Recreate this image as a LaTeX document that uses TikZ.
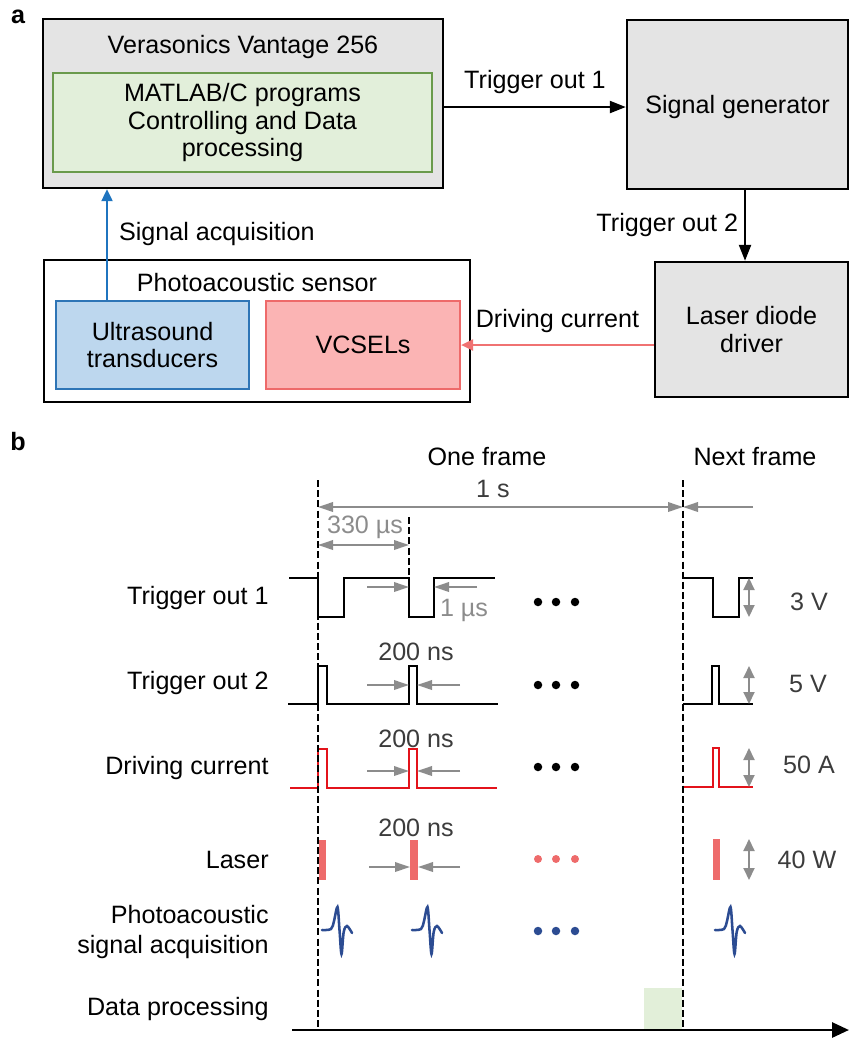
\documentclass[tikz,border=0pt]{standalone}
\usepackage{fontspec}
\setmainfont{Liberation Sans}
\usetikzlibrary{arrows.meta, positioning, calc}

\definecolor{boxgray}{HTML}{E4E4E4}
\definecolor{progfill}{HTML}{E2EFDA}
\definecolor{progdraw}{HTML}{6A9A4C}
\definecolor{usfill}{HTML}{BDD7EE}
\definecolor{usdraw}{HTML}{2E75B6}
\definecolor{vcfill}{HTML}{FBB4B4}
\definecolor{vcdraw}{HTML}{EE6A6A}
\definecolor{acqblue}{HTML}{1F74BF}
\definecolor{drivered}{HTML}{F07272}
\definecolor{pulsered}{HTML}{E3131B}
\definecolor{laserred}{HTML}{EE6B6B}
\definecolor{panavy}{HTML}{2C4C92}
\definecolor{dimgray}{HTML}{8C8C8C}
\definecolor{valgray}{HTML}{3C3C3C}
\definecolor{procgreen}{HTML}{E2EFD9}

\newcommand{\figfont}{\fontsize{14.3}{15.4}\selectfont}

\tikzstyle{device}     = [rectangle, draw=black, line width=1.4pt, fill=boxgray, align=center]
\tikzstyle{program}    = [rectangle, draw=progdraw, line width=1.1pt, fill=progfill, align=center]
\tikzstyle{sensor}     = [rectangle, draw=black, line width=1.4pt, fill=white]
\tikzstyle{transducer} = [rectangle, draw=usdraw, line width=1.2pt, fill=usfill, align=center]
\tikzstyle{emitter}    = [rectangle, draw=vcdraw, line width=1.2pt, fill=vcfill, align=center]
\tikzstyle{arrow}      = [line width=1.3pt, -{Triangle[length=3.2mm, width=2.4mm]}]
\tikzstyle{acqarrow}   = [draw=acqblue, line width=1.3pt, -{Triangle[length=2.4mm, width=2.2mm]}]
\tikzstyle{drivearrow} = [draw=drivered, line width=1.2pt, -{Triangle[length=2.4mm, width=2.2mm]}]
\tikzstyle{rowlabel}   = [anchor=east, inner sep=0pt, align=right]
\tikzstyle{valtext}    = [text=valgray]
\tikzstyle{dimtext}    = [text=dimgray]
\tikzstyle{dim}        = [draw=dimgray, line width=1.1pt, >={Triangle[length=3mm, width=1.9mm]}]
\tikzstyle{amp}        = [draw=dimgray, line width=1.1pt, >={Triangle[length=2.4mm, width=2.2mm]}]
\tikzstyle{frameline}  = [line width=1.35pt, dash pattern=on 4pt off 1.8pt]
\tikzstyle{trig}       = [line width=1.35pt]
\tikzstyle{drive}      = [draw=pulsered, line width=1.5pt]
\tikzstyle{pawave}     = [draw=panavy, line width=1.45pt, line cap=round]
\tikzstyle{timeaxis}   = [line width=1.6pt, -{Triangle[length=3.4mm, width=3mm]}]

\begin{document}
\begin{tikzpicture}[x=0.02cm, y=-0.02cm, every node/.style={font=\figfont}]
  \useasboundingbox (0,0) rectangle (850,1038);

  % --- panel a: hardware blocks ---
  \node (lbl_a) [font=\figfont\bfseries] at (18,17) {a};

  \node (vera) [device, minimum width=8cm, minimum height=3.38cm] at (243,103.5) {};
  \node (vera_lbl) at (243,47.5) {Verasonics Vantage 256};
  \node (prog) [program, minimum width=7.58cm, minimum height=1.98cm] at (242.5,122.5)
               {MATLAB/C programs\\Controlling and Data\\processing};

  \node (sg) [device, minimum width=4.42cm, minimum height=3.38cm, text depth=0pt] at (737.5,104.5) {Signal generator};
  \node (ld) [device, minimum width=3.86cm, minimum height=2.7cm] at (751.5,329.5) {Laser diode\\driver};

  \node (pas) [sensor, minimum width=8.52cm, minimum height=2.84cm] at (257,331) {};
  \node (pas_lbl) at (257,283) {Photoacoustic sensor};
  \node (ust) [transducer, minimum width=3.86cm, minimum height=1.76cm] at (152.5,345)
              {Ultrasound\\transducers};
  \node (vcsel) [emitter, minimum width=3.88cm, minimum height=1.76cm, right=0.3cm of ust] {VCSELs};

  % links
  \draw[arrow] ([yshift=-0.07cm]vera.east) -- node[above=1.2mm]{Trigger out 1} ([yshift=-0.07cm]vera.east -| sg.west);
  \draw[arrow] ([xshift=0.15cm]sg.south) -- node[left]{Trigger out 2} ([xshift=0.15cm]sg.south |- ld.north);
  \draw[drivearrow] (ld.west |- vcsel.east) -- node[above=1mm]{Driving current} (vcsel.east);
  \draw[acqarrow] ([xshift=-0.91cm]ust.north) -- node[right=1mm, pos=0.6]{Signal acquisition}
                  ([xshift=-0.91cm]ust.north |- vera.south);

  % --- panel b: timing ---
  \node (lbl_b) [font=\figfont\bfseries] at (18,442) {b};

  \node (r_t1)   [rowlabel] at (269,598)  {Trigger out 1};
  \node (r_t2)   [rowlabel] at (269,683)  {Trigger out 2};
  \node (r_dc)   [rowlabel] at (269,768)  {Driving current};
  \node (r_las)  [rowlabel] at (269,860)  {Laser};
  \node (r_pa)   [rowlabel] at (269,932)  {Photoacoustic\\[1.7pt]signal acquisition};
  \node (r_proc) [rowlabel] at (269,1009) {Data processing};

  \node (one)  at (487,457) {One frame};
  \node (next) at (755,457) {Next frame};
  \node (dur) [valtext] at (493,489) {1 s};
  \node (per) [dimtext] at (365,527) {330 µs};

  % frame and period markers
  \draw[dim, <->] (318,507) -- (683,507);
  \draw[dim, ->]  (753,507) -- (683,507);
  \draw[dim, <->] (318,545) -- (409,545);

  % trigger out 1
  \draw[trig] (289,578) -- (318,578) -- (318,617) -- (344,617) -- (344,578) -- (409,578)
              -- (409,617) -- (434,617) -- (434,578) -- (495,578);
  \draw[trig] (683,578) -- (713,578) -- (713,617) -- (739,617) -- (739,578) -- (753,578);
  \draw[dim, ->] (367,587) -- (409,587);
  \draw[dim, ->] (477,587) -- (434,587);
  \node (w1) [dimtext] at (464,610) {1 µs};
  \draw[amp, <->] (749,578) -- (749,617);
  \node (a1) [valtext] at (809,602) {3 V};

  % trigger out 2
  \draw[trig] (288,704) -- (318,704) -- (318,666) -- (327,666) -- (327,704) -- (409,704)
              -- (409,666) -- (417,666) -- (417,704) -- (498,704);
  \draw[trig] (683,704) -- (712,704) -- (712,666) -- (719,666) -- (719,704) -- (753,704);
  \node (w2) [valtext] at (416,652) {200 ns};
  \draw[dim, ->] (367,685) -- (409,685);
  \draw[dim, ->] (460,685) -- (417,685);
  \draw[amp, <->] (749,666) -- (749,704);
  \node (a2) [valtext] at (808,684) {5 V};

  % driving current
  \draw[drive] (290,788) -- (318,788) -- (318,749) -- (327,749) -- (327,788) -- (409,788)
               -- (409,749) -- (417,749) -- (417,788) -- (497,788);
  \draw[drive] (683,787) -- (713,787) -- (713,748) -- (719,748) -- (719,787) -- (753,787);
  \node (w3) [valtext] at (416,739) {200 ns};
  \draw[dim, ->] (367,771) -- (409,771);
  \draw[dim, ->] (460,771) -- (417,771);
  \draw[amp, <->] (749,748) -- (749,787);
  \node (a3) [valtext] at (809,765) {50 A};

  % laser pulses
  \fill[laserred] (319,840) rectangle (326,880);
  \fill[laserred] (410,840) rectangle (418,880);
  \fill[laserred] (713,839) rectangle (720,880);
  \node (w4) [valtext] at (416,828) {200 ns};
  \draw[dim, ->] (369,867) -- (410,867);
  \draw[dim, ->] (460,867) -- (418,867);
  \draw[amp, <->] (749,839) -- (749,880);
  \node (a4) [valtext] at (807,860) {40 W};

  % photoacoustic echoes
  \foreach \x in {322,412,715}
    \draw[pawave, shift={(\x,930)}] plot[smooth, tension=0.55]
      coordinates {(0,0) (9,-1) (12,-9) (15.5,-23) (17.5,0) (19.5,24) (21.7,2) (25,-4) (30,3)};

  % repeated pulses
  \foreach \x in {538,556,575} {
    \fill (\x,602) circle (0.085cm);
    \fill (\x,685) circle (0.085cm);
    \fill (\x,767) circle (0.085cm);
    \fill[laserred] (\x,859) circle (0.08cm);
    \fill[panavy] (\x,931) circle (0.085cm);
  }

  % processing window
  \fill[procgreen] (644,988) rectangle (682,1030);

  \draw[frameline] (318,480) -- (318,1030);
  \draw[frameline] (683,480) -- (683,1030);
  \draw[frameline] (409,517) -- (409,578);

  \draw[timeaxis] (292,1030) -- (849,1030);

\end{tikzpicture}
\end{document}
